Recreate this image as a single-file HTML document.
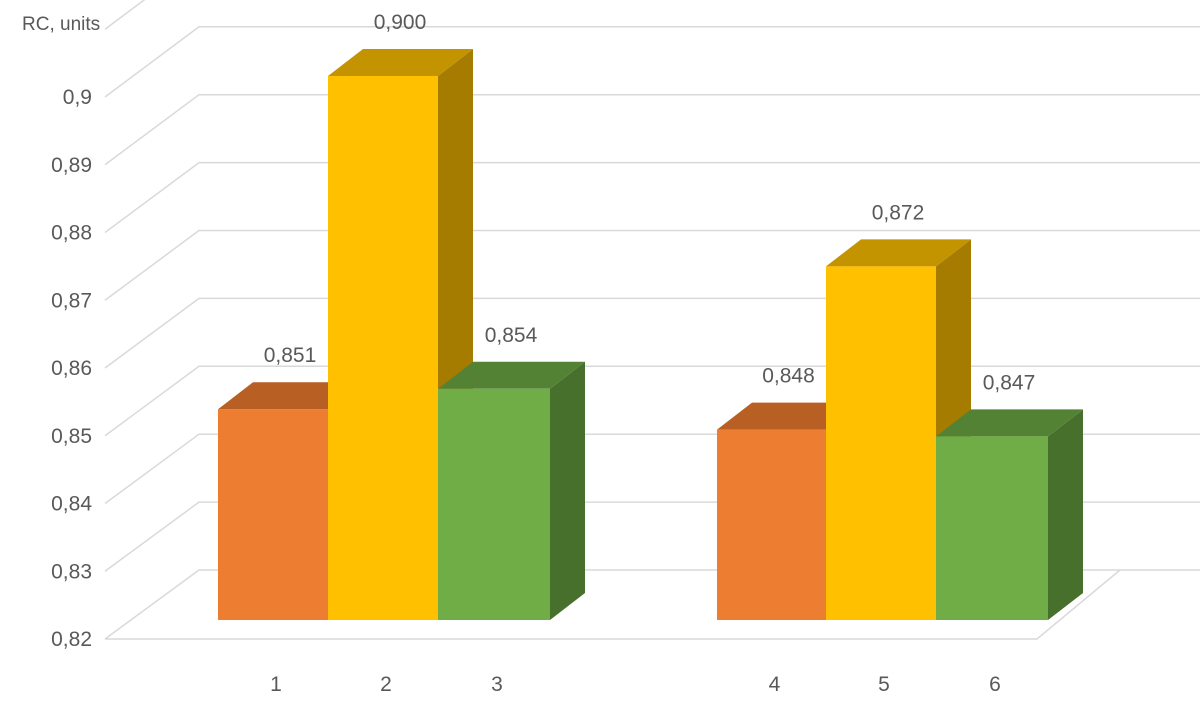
<!DOCTYPE html>
<html><head><meta charset="utf-8"><style>
body{margin:0;background:#fff;}
svg text{font-family:"Liberation Sans",sans-serif;fill:#595959;}
</style></head><body>
<svg id="chart" width="1200" height="705" viewBox="0 0 1200 705" xmlns="http://www.w3.org/2000/svg">
<text x="22" y="30" font-size="19">RC, units</text>
<g id="grid"></g>
<g id="ylabels"></g>
<g id="bars"></g>
<g id="xlabels"></g>
</svg>
<script>
const categories = ["1","2","3","4","5","6"];
const values = [0.851, 0.900, 0.854, 0.848, 0.872, 0.847];
const valueLabels = ["0,851","0,900","0,854","0,848","0,872","0,847"];
const tickValues = [0.82,0.83,0.84,0.85,0.86,0.87,0.88,0.89,0.90];
const tickLabels = ["0,82","0,83","0,84","0,85","0,86","0,87","0,88","0,89","0,9"];

const NS="http://www.w3.org/2000/svg";
const vmin=0.82;
function yFront(v){return 639-(v-vmin)*6775;}
function yBack(v){return 570-(v-vmin)*6790;}
function yBar(v){return 620-(v-vmin)*6800;}
const barX=[218,328,438,717,826,936];
const barW=[110,110,112,109,110,112];
const DX=35, DY=27;
const cols=[["#ED7D31","#B85F24","#A0501E"],["#FFC000","#C49300","#A57C00"],["#70AD47","#548235","#47702D"]];
function mk(tag,attrs,parent){const e=document.createElementNS(NS,tag);for(const k in attrs)e.setAttribute(k,attrs[k]);parent.appendChild(e);return e;}
const grid=document.getElementById('grid');
const yl=document.getElementById('ylabels');
tickValues.forEach((v,i)=>{
  const l=mk('polyline',{points:`105,${yFront(v)} 199,${yBack(v)} 1200,${yBack(v)}`,fill:'none',stroke:'#d9d9d9','stroke-width':1.5},grid);
  
  
  const t=mk('text',{x:92,y:yFront(v)+7,'font-size':21,'text-anchor':'end'},yl);
  t.textContent=tickLabels[i];
  
  
});
const topV=0.91;
const tl=mk('polyline',{points:`105,${yFront(topV)} 199,${yBack(topV)} 1200,${yBack(topV)}`,fill:'none',stroke:'#d9d9d9','stroke-width':1.5},grid);


const fl=mk('polyline',{points:`105,${yFront(vmin)} 1037,${yFront(vmin)} 1120,${yBack(vmin)}`,fill:'none',stroke:'#d9d9d9','stroke-width':1.5},grid);



const bars=document.getElementById('bars');
const xl=document.getElementById('xlabels');
values.forEach((v,i)=>{
  const c=cols[i%3];const x=barX[i],w=barW[i],y=yBar(v),b=yBar(vmin);
  const g=mk('g',{},bars);
  
  
  mk('polygon',{points:`${x+w},${y} ${x+w+DX},${y-DY} ${x+w+DX},${b-DY} ${x+w},${b}`,fill:c[2]},g);
  mk('polygon',{points:`${x},${y} ${x+DX},${y-DY} ${x+w+DX},${y-DY} ${x+w},${y}`,fill:c[1]},g);
  mk('rect',{x:x,y:y,width:w,height:b-y,fill:c[0]},g);
  const t=mk('text',{x:x+w/2+17,y:y-47,'font-size':21,'text-anchor':'middle'},bars);
  t.textContent=valueLabels[i];
  
  
  const xt=mk('text',{x:x+w/2+3,y:691,'font-size':21,'text-anchor':'middle'},xl);
  xt.textContent=categories[i];
  
  
});
</script>
</body></html>
